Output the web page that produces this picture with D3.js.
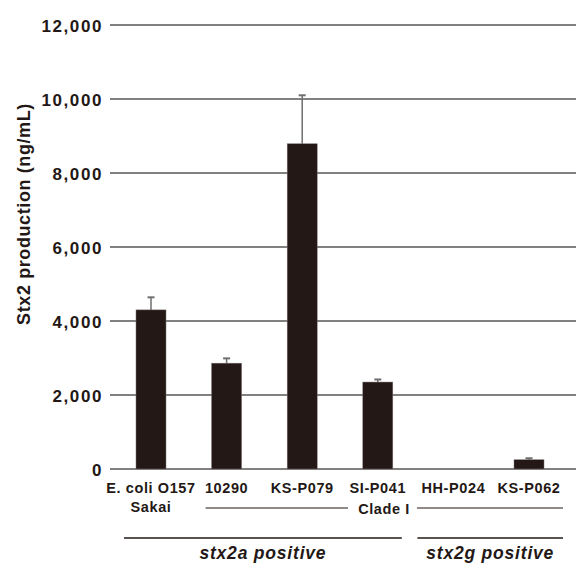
<!DOCTYPE html>
<html>
<head>
<meta charset="utf-8">
<script src="https://cdn.jsdelivr.net/npm/d3@7"></script>
<style>
  html, body { margin: 0; padding: 0; background: #fff; }
  svg { display: block; }
  text { font-family: "Liberation Sans", Arial, sans-serif; fill: #231815; }
</style>
</head>
<body>
<svg id="chart" width="576" height="565"></svg>
<script>
// Strains and Stx2 production (ng/mL), mean and upper error
const strains = ["E. coli O157|Sakai", "10290", "KS-P079", "SI-P041", "HH-P024", "KS-P062"];
const production = [4300, 2860, 8790, 2350, 0, 250];
const errorTop = [4640, 2990, 10100, 2420, 0, 290];
const yTicks = [0, 2000, 4000, 6000, 8000, 10000, 12000];
const yTitle = "Stx2 production (ng/mL)";
const cladeLabel = "Clade I";
const groupLabels = ["stx2a positive", "stx2g positive"];

const W = 576, H = 565;
const svg = d3.select("#chart");

const y = d3.scaleLinear().domain([0, 12000]).range([469, 25]);
const x = d3.scalePoint().domain(strains).range([151, 529]);
const barW = 30;
const barColor = "#231815";
const gridColor = "#5a5656";

// horizontal gridlines with labels
const yAxis = d3.axisLeft(y).tickValues(yTicks).tickSize(0).tickPadding(0)
  .tickFormat(d => d3.format(",")(d));
const gAxis = svg.append("g").attr("transform", "translate(103,0)").call(yAxis);
gAxis.select(".domain").remove();
gAxis.selectAll("text")
  .attr("font-size", 17).attr("font-weight", "bold")
  .attr("letter-spacing", "1.6px")
  .attr("fill", barColor)
  .attr("dy", "0.36em")
  .attr("font-family", "'Liberation Sans', Arial, sans-serif");

svg.append("g").selectAll("line").data(yTicks).join("line")
  .attr("x1", 110).attr("x2", W)
  .attr("y1", d => y(d)).attr("y2", d => y(d))
  .attr("stroke", gridColor).attr("stroke-width", 1.4);

// y title
svg.append("text")
  .attr("transform", `translate(30,${214}) rotate(-90)`)
  .attr("text-anchor", "middle")
  .attr("font-size", 18).attr("font-weight", "bold")
  .attr("letter-spacing", "0.6px")
  .text(yTitle);

// error bars
const eb = svg.append("g");
strains.forEach((s, i) => {
  if (production[i] <= 0) return;
  const cx = x(s);
  eb.append("line").attr("x1", cx).attr("x2", cx)
    .attr("y1", y(production[i])).attr("y2", y(errorTop[i]))
    .attr("stroke", "#6e6e6e").attr("stroke-width", 1.5);
  eb.append("line").attr("x1", cx - 3.5).attr("x2", cx + 3.5)
    .attr("y1", y(errorTop[i])).attr("y2", y(errorTop[i]))
    .attr("stroke", "#6e6e6e").attr("stroke-width", 2);
});

// bars
svg.append("g").selectAll("rect").data(strains).join("rect")
  .attr("x", d => x(d) - barW / 2)
  .attr("width", barW)
  .attr("y", (d, i) => y(production[i]))
  .attr("height", (d, i) => y(0) - y(production[i]))
  .attr("fill", barColor)
  .attr("stroke", "#7a7070").attr("stroke-width", 0.5);

// category labels
const lab = svg.append("g");
strains.forEach(s => {
  const lines = s.split("|");
  lines.forEach((t, k) => {
    lab.append("text")
      .attr("x", x(s)).attr("y", 493 + k * 19)
      .attr("text-anchor", "middle")
      .attr("font-size", 14.5).attr("font-weight", "bold")
      .attr("letter-spacing", "0.6px")
      .text(t);
  });
});

// Clade I bracket
const cladeY = 508;
const cl0 = x(strains[1]) - 21, cl1 = x(strains[5]) + 34;
const cladeCx = 384;
svg.append("line").attr("x1", cl0).attr("x2", cladeCx - 36)
  .attr("y1", cladeY).attr("y2", cladeY).attr("stroke", barColor).attr("stroke-width", 1.2);
svg.append("line").attr("x1", cladeCx + 33).attr("x2", cl1)
  .attr("y1", cladeY).attr("y2", cladeY).attr("stroke", barColor).attr("stroke-width", 1.2);
svg.append("text").attr("x", cladeCx).attr("y", cladeY + 5.5)
  .attr("text-anchor", "middle").attr("font-size", 14.5).attr("font-weight", "bold")
  .attr("letter-spacing", "0.6px")
  .text(cladeLabel);

// stx2 groups
const grpY = 538;
const groups = [
  [x(strains[0]) - 27, x(strains[3]) + 24],
  [x(strains[4]) - 36, x(strains[5]) + 34]
];
groups.forEach((g, i) => {
  svg.append("line").attr("x1", g[0]).attr("x2", g[1])
    .attr("y1", grpY).attr("y2", grpY).attr("stroke", barColor).attr("stroke-width", 1.4);
  svg.append("text").attr("x", (g[0] + g[1]) / 2).attr("y", 559)
    .attr("text-anchor", "middle").attr("font-size", 17.5).attr("font-weight", "bold")
    .attr("font-style", "italic").attr("letter-spacing", "0.8px")
    .text(groupLabels[i]);
});
</script>
</body>
</html>
